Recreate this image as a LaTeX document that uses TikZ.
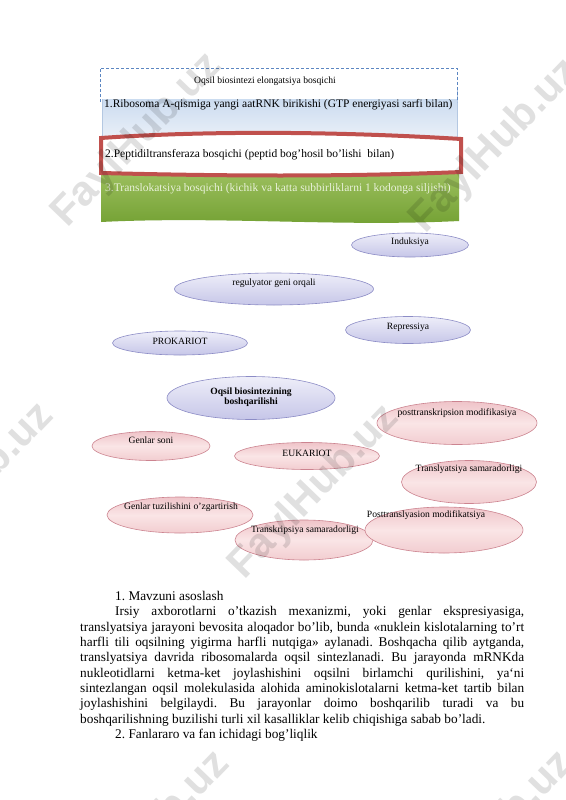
\documentclass[tikz,border=0pt]{standalone}
\usepackage{fontspec}
\setmainfont{Liberation Serif}
\newfontfamily\wmfont{Liberation Sans}
\usetikzlibrary{shapes.geometric}
\definecolor{lavb}{HTML}{8C8CC6}
\definecolor{lavt}{HTML}{EEEEF9}
\definecolor{lavbot}{HTML}{C6C6E8}
\definecolor{pinkb}{HTML}{CC8490}
\definecolor{pinkt}{HTML}{EFC4C9}
\definecolor{pinkm}{HTML}{FAE5E6}
\definecolor{pinkbot}{HTML}{F2CDD0}
\definecolor{blueT}{HTML}{C4D7EE}
\definecolor{blueB}{HTML}{EDF2F9}
\definecolor{blueE}{HTML}{B4C8E2}
\definecolor{dashB}{HTML}{5B86C2}
\definecolor{redB}{HTML}{C0504D}
\definecolor{greenT}{HTML}{9CBF5E}
\definecolor{greenB}{HTML}{72A032}
\definecolor{greenTxt}{HTML}{E9F1DA}
\tikzset{
  lav/.style={ellipse, draw=lavb, line width=0.6pt, top color=lavt, bottom color=lavbot, inner sep=0},
  pnk/.style={ellipse, draw=pinkb, line width=0.6pt, top color=pinkt, bottom color=pinkbot, middle color=pinkm, inner sep=0},
  lbl/.style={font=\fontsize{9.6}{11.5}\selectfont, inner sep=0},
  boxtxt/.style={font=\fontsize{11.5}{13}\selectfont, inner sep=0, anchor=west},
  body/.style={font=\frenchspacing\fontsize{13.3}{15.35}\selectfont, inner sep=0, anchor=base west},
  wm/.style={font=\wmfont\bfseries\fontsize{42}{42}\selectfont, rotate=46, text=black, text opacity=0.12, inner sep=0}
}
\begin{document}
\begin{tikzpicture}[x=1pt,y=-1pt]
\useasboundingbox (0,0) rectangle (565,800);
\fill[white] (0,0) rectangle (565,800);

% ---- elongation boxes ----
\shade[top color=blueT, bottom color=blueB] (102,90) rectangle (457,142);
\draw[blueE, line width=0.5pt] (102,90) rectangle (457,142);
\shade[top color=greenT, bottom color=greenB]
  (101,172) -- (459,172) -- (459,221) .. controls (340,227) and (220,216) .. (101,222) -- cycle;
\filldraw[fill=white, draw=redB, line width=4pt]
  (101,138) .. controls (200,131) and (330,131) .. (461,139) -- (461,172) .. controls (340,177) and (220,176) .. (101,173) -- cycle;
\fill[white] (100,68) rectangle (457,99);
\draw[dashB, line width=0.6pt, dash pattern=on 3pt off 2pt] (100,102) -- (100,68) -- (457,68) -- (457,102);

\node[lbl] (t0) at (265,81) {Oqsil biosintezi elongatsiya bosqichi};
\node[boxtxt] (t1) at (104,105) {1.Ribosoma A-qismiga yangi aatRNK birikishi (GTP energiyasi sarfi bilan)};
\node[boxtxt] (t2) at (105,155) {2.Peptidiltransferaza bosqichi (peptid bog’hosil bo’lishi\ \ bilan)};
\node[boxtxt, text=greenTxt] (t3) at (105,189) {3.Translokatsiya bosqichi (kichik va katta subbirliklarni 1 kodonga siljishi)};

% ---- lavender ellipses ----
\node[lav, minimum width=117pt, minimum height=24pt] (ind) at (410,245) {};
\node[lbl] (indt) at (410,242) {Induksiya};
\node[lav, minimum width=199pt, minimum height=32pt] (reg) at (274,289) {};
\node[lbl] (regt) at (274,283) {regulyator geni orqali};
\node[lav, minimum width=125pt, minimum height=27pt] (rep) at (408,330) {};
\node[lbl] (rept) at (408,327) {Repressiya};
\node[lav, minimum width=135pt, minimum height=24pt] (prok) at (180,343) {};
\node[lbl] (prokt) at (180,341) {PROKARIOT};
\node[lav, minimum width=168pt, minimum height=43pt] (oqs) at (251,398) {};
\node[lbl, align=center, font=\bfseries\fontsize{9.6}{10.5}\selectfont] (oqst) at (251,397) {Oqsil biosintezining\\boshqarilishi};

% ---- pink ellipses ----
\node[pnk, minimum width=118pt, minimum height=29pt] (gs) at (151,446) {};
\node[lbl] (gst) at (151,440) {Genlar soni};
\node[pnk, minimum width=145pt, minimum height=27pt] (euk) at (307,456) {};
\node[lbl] (eukt) at (307,453) {EUKARIOT};
\node[pnk, minimum width=160pt, minimum height=43pt] (ptm) at (457,423) {};
\node[lbl] (ptmt) at (457,413) {posttranskripsion modifikasiya};
\node[pnk, minimum width=135pt, minimum height=43pt] (tsam) at (469,482) {};
\node[lbl] (tsamt) at (469,469) {Translyatsiya samaradorligi};
\node[pnk, minimum width=146pt, minimum height=36pt] (gtuz) at (180,515) {};
\node[lbl] (gtuzt) at (181,507) {Genlar tuzilishini o’zgartirish};
\node[pnk, minimum width=138pt, minimum height=40pt] (trs) at (304,540) {};
\node[lbl] (trst) at (305,530) {Transkripsiya samaradorligi};
\node[pnk, minimum width=158pt, minimum height=46pt] (ptl) at (444,530) {};
\node[lbl] (ptlt) at (426,515) {Posttranslyasion modifikatsiya};

% ---- body text ----
\node[body] (l1) at (115,600.5) {1. Mavzuni asoslash};
\node[body] (l2) at (115,615.85) {\makebox[409pt][s]{Irsiy axborotlarni o’tkazish mexanizmi, yoki genlar ekspresiyasiga,}};
\node[body] (l3) at (80,631.2) {\makebox[444pt][s]{translyatsiya jarayoni bevosita aloqador bo’lib, bunda «nuklein kislotalarning to’rt}};
\node[body] (l4) at (80,646.55) {\makebox[444pt][s]{harfli tili oqsilning yigirma harfli nutqiga» aylanadi. Boshqacha qilib aytganda,}};
\node[body] (l5) at (80,661.9) {\makebox[444pt][s]{translyatsiya davrida ribosomalarda oqsil sintezlanadi. Bu jarayonda mRNKda}};
\node[body] (l6) at (80,677.25) {\makebox[444pt][s]{nukleotidlarni ketma-ket joylashishini oqsilni birlamchi qurilishini, ya`ni}};
\node[body] (l7) at (80,692.6) {\makebox[444pt][s]{sintezlangan oqsil molekulasida alohida aminokislotalarni ketma-ket tartib bilan}};
\node[body] (l8) at (80,707.95) {\makebox[444pt][s]{joylashishini belgilaydi. Bu jarayonlar doimo boshqarilib turadi va bu}};
\node[body] (l9) at (80,723.3) {boshqarilishning buzilishi turli xil kasalliklar kelib chiqishiga sabab bo’ladi.};
\node[body] (l10) at (115,738.65) {2. Fanlararo va fan ichidagi bog’liqlik};

% ---- watermarks ----
\node[wm] (w1) at (137,140) {FaylHub.uz};
\node[wm] (w2) at (495,146) {FaylHub.uz};
\node[wm] (w3) at (-31,490) {FaylHub.uz};
\node[wm] (w4) at (314,492) {FaylHub.uz};
\node[wm] (w5) at (145,838) {FaylHub.uz};
\node[wm] (w6) at (489,838) {FaylHub.uz};
\end{tikzpicture}
\end{document}
